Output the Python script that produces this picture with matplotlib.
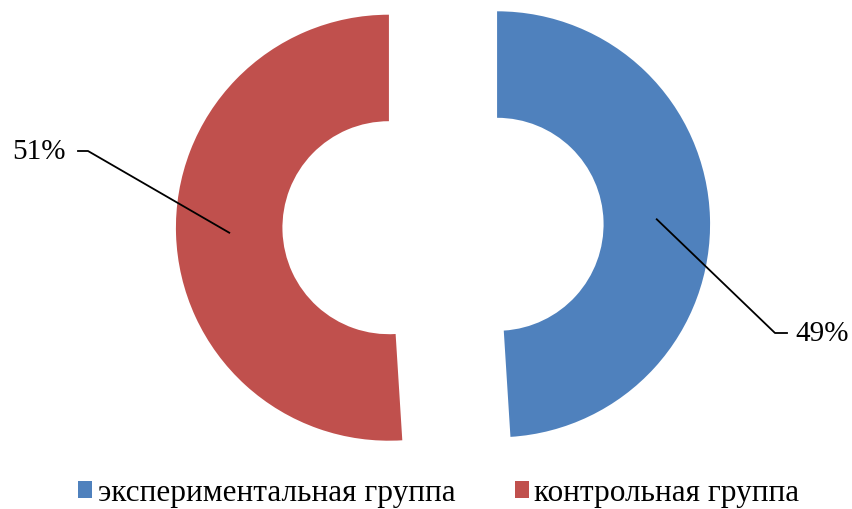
import numpy as np
import matplotlib.pyplot as plt
from matplotlib.patches import Patch

labels = ['экспериментальная группа', 'контрольная группа']
shares = [49, 51]
colors = ['#4F81BD', '#C0504D']

plt.rcParams['font.family'] = ['Liberation Serif', 'DejaVu Serif']

W, H = 852, 510
R = 213.0           # outer radius in px
cx, cy = 443, 227   # pie centre in px (from top-left)

fig = plt.figure(figsize=(W / 100, H / 100), dpi=100)
ax = fig.add_axes([0, 0, 1, 1])

explode = [0.254, 0.254]
wedges, _ = ax.pie(shares, colors=colors, startangle=90, counterclock=False,
                   explode=explode, radius=1.0,
                   wedgeprops=dict(width=0.5, edgecolor='none'))

ax.set_xlim(-cx / R, (W - cx) / R)
ax.set_ylim(-(H - cy) / R, cy / R)
ax.set_aspect('auto')
ax.axis('off')

# leader-line elbows in px and which side the text goes
elbow = [(787, 334), (78, 152)]
sides = ['left', 'right']
for w, s, side, (ex, ey) in zip(wedges, shares, sides, elbow):
    ang = np.deg2rad((w.theta1 + w.theta2) / 2)
    c = w.center
    px = c[0] + 0.75 * np.cos(ang)
    py = c[1] + 0.75 * np.sin(ang)
    exd = (ex - cx) / R
    eyd = (cy - ey) / R
    if side == 'left':
        kx = exd - 12 / R
        ax.plot([px, kx, exd], [py, eyd, eyd], color='black', lw=1.3)
        ax.text(exd + 8 / R, eyd, f'{s}%', fontsize=21, ha='left', va='center')
    else:
        kx = exd + 10 / R
        ax.plot([px, kx, exd], [py, eyd, eyd], color='black', lw=1.3)
        ax.text(exd - 12 / R, eyd, f'{s}%', fontsize=21, ha='right', va='center')

handles = [Patch(facecolor=c, edgecolor='none') for c in colors]
fig.legend(handles, labels, loc='lower center', bbox_to_anchor=(0.515, 0.0),
           ncol=2, frameon=False, fontsize=22.5, handlelength=0.45,
           handleheight=0.45, handletextpad=0.18, columnspacing=1.9,
           borderpad=0.05, borderaxespad=0)

fig.savefig('out.png', dpi=100)
